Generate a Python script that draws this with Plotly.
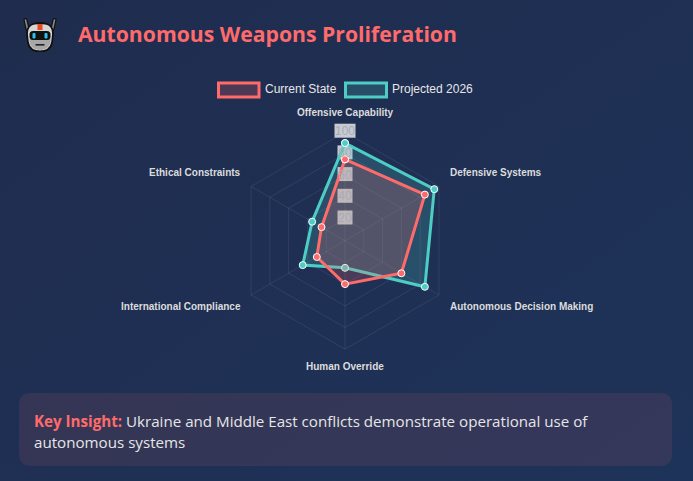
import base64
import plotly.graph_objects as go

W, H = 693, 481

#--- data ---
categories = ["Offensive Capability", "Defensive Systems", "Autonomous Decision Making",
              "Human Override", "International Compliance", "Ethical Constraints"]
current_state = [75, 85, 60, 40, 30, 25]
projected_2026 = [90, 95, 85, 25, 45, 35]
radial_ticks = [20, 40, 60, 80, 100]

CORAL = "#ff6b6b"
TEAL = "#4ecdc4"

# polar centre + radius in page pixels
cx, cy, radius = 345, 240.7, 108.5

def px_x(x):
    return x / W

def px_y(y):
    return 1 - y / H

def data_uri(svg):
    return "data:image/svg+xml;base64," + base64.b64encode(svg.encode()).decode()

#background gradient
bg_svg = f"""<svg xmlns="http://www.w3.org/2000/svg" width="{W}" height="{H}">
<defs><linearGradient id="g" x1="0" y1="0" x2="1" y2="1">
<stop offset="0" stop-color="#1f2c4e"/><stop offset="1" stop-color="#1e3359"/></linearGradient></defs>
<rect width="{W}" height="{H}" fill="url(#g)"/></svg>"""

#robot icon (no emoji font here)
robot_svg = """<svg xmlns="http://www.w3.org/2000/svg" viewBox="0 0 35 35" width="35" height="35">
<path d="M3 3 L5 12 M32 3 L30 12" stroke="#111" stroke-width="4" stroke-linecap="round"/>
<path d="M3 3 L5 12 M32 3 L30 12" stroke="#8a8a8a" stroke-width="1.6" stroke-linecap="round"/>
<path d="M4.5 17 C4.5 8 10 6 17.5 6 C25 6 30.5 8 30.5 17 L29.5 26 C28 32 23 34.5 17.5 34.5 C12 34.5 7 32 5.5 26 Z" fill="#d6d6d6" stroke="#111" stroke-width="1.8"/>
<path d="M7 26 C9 31 13 33 17.5 33 C22 33 26 31 28 26 L28 22 L7 22 Z" fill="#a8a8a8"/>
<rect x="15" y="7" width="5" height="6" fill="#e8491d"/>
<rect x="7" y="14" width="21" height="9" rx="3.5" fill="#111"/>
<rect x="10" y="16" width="3" height="5.5" rx="1" fill="#2ec4f1"/>
<rect x="22" y="16" width="3" height="5.5" rx="1" fill="#2ec4f1"/>
<rect x="13" y="27" width="9" height="1.6" fill="#222"/>
</svg>"""

fig = go.Figure()

# projected goes first so the current state sits on top
for name, values, color, fill in [("Projected 2026", projected_2026, TEAL, "rgba(78,205,196,0.2)"),
                                  ("Current State", current_state, CORAL, "rgba(255,107,107,0.2)")]:
    fig.add_trace(go.Scatterpolar(r=values + values[:1], theta=categories + categories[:1], name=name,
                                  mode="lines+markers", fill="toself", fillcolor=fill,
                                  line=dict(color=color, width=3),
                                  marker=dict(color=color, size=7, line=dict(color="#ffffff", width=1))))

#radial tick labels, backdrop boxes are shapes underneath
fig.add_trace(go.Scatterpolar(r=radial_ticks, theta=[categories[0]] * len(radial_ticks), mode="text",
                              text=[str(t) for t in radial_ticks], textposition="middle center",
                              textfont=dict(family="Liberation Sans", size=12, color="#a9abb2"),
                              cliponaxis=False, hoverinfo="skip"))

shapes = []
for t in radial_ticks:
    half = 10.5 if t == 100 else 7.5
    y = cy - radius * t / 100
    shapes.append(dict(type="rect", xref="paper", yref="paper", layer="below", line_width=0,
                       x0=px_x(cx - half), x1=px_x(cx + half), y0=px_y(y - 8.5), y1=px_y(y + 5.5),
                       fillcolor="rgba(255,255,255,0.75)"))

#legend swatches
for x0, x1, color, fill in [(218.5, 259, CORAL, "rgba(255,107,107,0.2)"), (345.5, 386.5, TEAL, "rgba(78,205,196,0.2)")]:
    shapes.append(dict(type="rect", xref="paper", yref="paper", x0=px_x(x0), x1=px_x(x1),
                       y0=px_y(83), y1=px_y(97), line=dict(color=color, width=3), fillcolor=fill))

#insight box, rounded corners
l, r, t, b, c = px_x(19), px_x(672), px_y(393), px_y(466), 12
cxr, cyr = c / W, c / H
shapes.append(dict(type="path", xref="paper", yref="paper", line_width=0, layer="below",
                   fillcolor="rgba(255,107,107,0.1)",
                   path=f"M {l+cxr} {t} L {r-cxr} {t} Q {r} {t} {r} {t-cyr} L {r} {b+cyr} Q {r} {b} {r-cxr} {b} "
                        f"L {l+cxr} {b} Q {l} {b} {l} {b+cyr} L {l} {t-cyr} Q {l} {t} {l+cxr} {t} Z"))

def label(x, y, text, family, size, color, weight=None, anchor="left"):
    return dict(xref="paper", yref="paper", x=px_x(x), y=px_y(y), xanchor=anchor, yanchor="middle",
                text=text, showarrow=False, align="left",
                font=dict(family=family, size=size, color=color, weight=weight))

annotations = [
    label(76, 33.5, "Autonomous Weapons Proliferation", "Open Sans", 21.2, CORAL, 700),
    label(263, 89, "Current State", "Liberation Sans", 12, "#e6e6e6"),
    label(390, 89, "Projected 2026", "Liberation Sans", 12, "#e6e6e6"),
    label(32, 421, f"<b style='color:{CORAL}'>Key Insight:</b> Ukraine and Middle East conflicts demonstrate operational use of",
          "Open Sans", 15.15, "#e6e6e6"),
    label(32, 442, "autonomous systems", "Open Sans", 15.15, "#e6e6e6"),
]

#axis labels sit further out than plotly's own tick labels
label_spots = [(345, 112.5, "center"), (448, 172, "left"), (448, 306, "left"),
               (345, 366, "center"), (242.5, 306, "right"), (242.5, 172, "right")]
for cat, (x, y, anchor) in zip(categories, label_spots):
    annotations.append(label(x, y, cat, "Liberation Sans", 10, "#dcdcdc", 700, anchor))

fig.update_layout(
    width=W, height=H, margin=dict(l=0, r=0, t=0, b=0), showlegend=False,
    paper_bgcolor="#1f2f53",
    polar=dict(
        domain=dict(x=[px_x(cx - radius), px_x(cx + radius)], y=[px_y(cy + radius), px_y(cy - radius)]),
        bgcolor="rgba(0,0,0,0)", gridshape="linear",
        radialaxis=dict(range=[0, 100], tickvals=radial_ticks, showticklabels=False, ticks="",
                        gridcolor="rgba(255,255,255,0.08)", showline=False),
        angularaxis=dict(direction="clockwise", rotation=90, ticks="", showticklabels=False, showline=True,
                         linecolor="rgba(255,255,255,0.08)", gridcolor="rgba(255,255,255,0.08)"),
    ),
    images=[
        dict(source=data_uri(bg_svg), xref="paper", yref="paper", x=0, y=1, sizex=1, sizey=1,
             xanchor="left", yanchor="top", sizing="stretch", layer="below"),
        dict(source=data_uri(robot_svg), xref="paper", yref="paper", x=px_x(22.5), y=px_y(17), sizex=35 / W, sizey=35 / H,
             xanchor="left", yanchor="top", sizing="stretch", layer="above"),
    ],
    shapes=shapes,
    annotations=annotations,
)

fig.write_html("out.html", config=dict(displayModeBar=False),
               post_script="document.body.style.margin='0';document.body.style.overflow='hidden';")
